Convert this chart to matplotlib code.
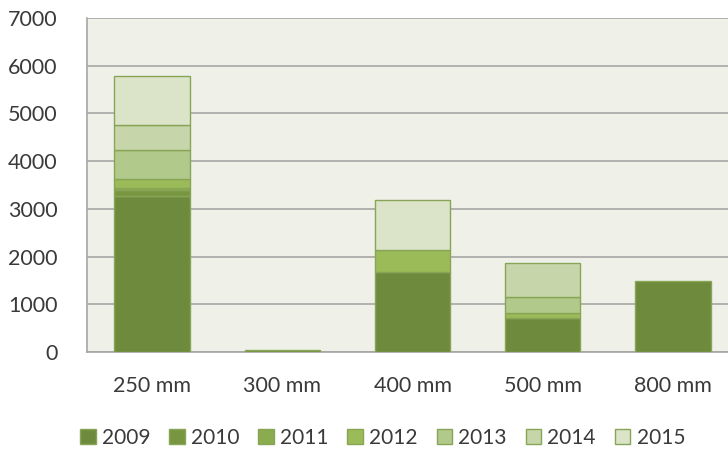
import matplotlib
matplotlib.use("Agg")
import matplotlib.pyplot as plt
import numpy as np

categories = ["250 mm", "300 mm", "400 mm", "500 mm", "800 mm"]
years = ["2009", "2010", "2011", "2012", "2013", "2014", "2015"]
values = {
    "2009": [3260, 50, 1670, 720, 1490],
    "2010": [125, 0, 0, 0, 0],
    "2011": [45, 0, 0, 0, 0],
    "2012": [200, 0, 465, 90, 0],
    "2013": [605, 0, 0, 350, 0],
    "2014": [530, 0, 0, 710, 0],
    "2015": [1010, 0, 1045, 0, 0],
}
colors = ["#6e8a3d", "#789640", "#8bab4f", "#9bbb59", "#b2c98c", "#c7d6aa", "#dbe4c8"]

plt.rcParams['font.family'] = ['Lato', 'DejaVu Sans']

fig = plt.figure(figsize=(7.28, 4.49), dpi=100)
ax = fig.add_axes([87/728, 1-352/449, 651/728, 334/449])
ax.set_facecolor("#eff1e9")

x = np.arange(len(categories))
bottom = np.zeros(len(categories))
for y, c in zip(years, colors):
    v = np.array(values[y], dtype=float)
    mask = v > 0
    ax.bar(x[mask], v[mask], bottom=bottom[mask], width=0.58, color=c,
           edgecolor="#88a556", linewidth=1.0, zorder=3)
    ax.bar([np.nan], [0], color=c, edgecolor="#88a556", linewidth=1.0, label=y)
    bottom += v

ax.set_xlim(-0.5, 4.5)
ax.set_ylim(0, 7000)
ax.set_yticks(range(0, 7001, 1000))
ax.set_xticks(x)
ax.set_xticklabels(categories)
ax.yaxis.grid(True, color="#a6a6a6", linewidth=1.2, zorder=0)
ax.set_axisbelow(True)
for s in ["top", "right"]:
    ax.spines[s].set_visible(False)
ax.spines["left"].set_color("#a6a6a6")
ax.spines["bottom"].set_color("#a6a6a6")
ax.spines["left"].set_linewidth(1.2)
ax.spines["bottom"].set_linewidth(1.2)
ax.tick_params(axis="both", length=0, labelsize=15.5, colors="#3a3a3a")
ax.tick_params(axis="y", pad=21)
ax.tick_params(axis="x", pad=17)

leg = fig.legend(loc="center left", bbox_to_anchor=(80/728, 1-438/449), ncol=7, frameon=False,
                 fontsize=15, handlelength=0.75, handleheight=0.75, handletextpad=0.3,
                 columnspacing=0.9, borderaxespad=0.0, borderpad=0.0)
for t in leg.get_texts():
    t.set_color("#3a3a3a")

fig.savefig("out.png", dpi=100)
